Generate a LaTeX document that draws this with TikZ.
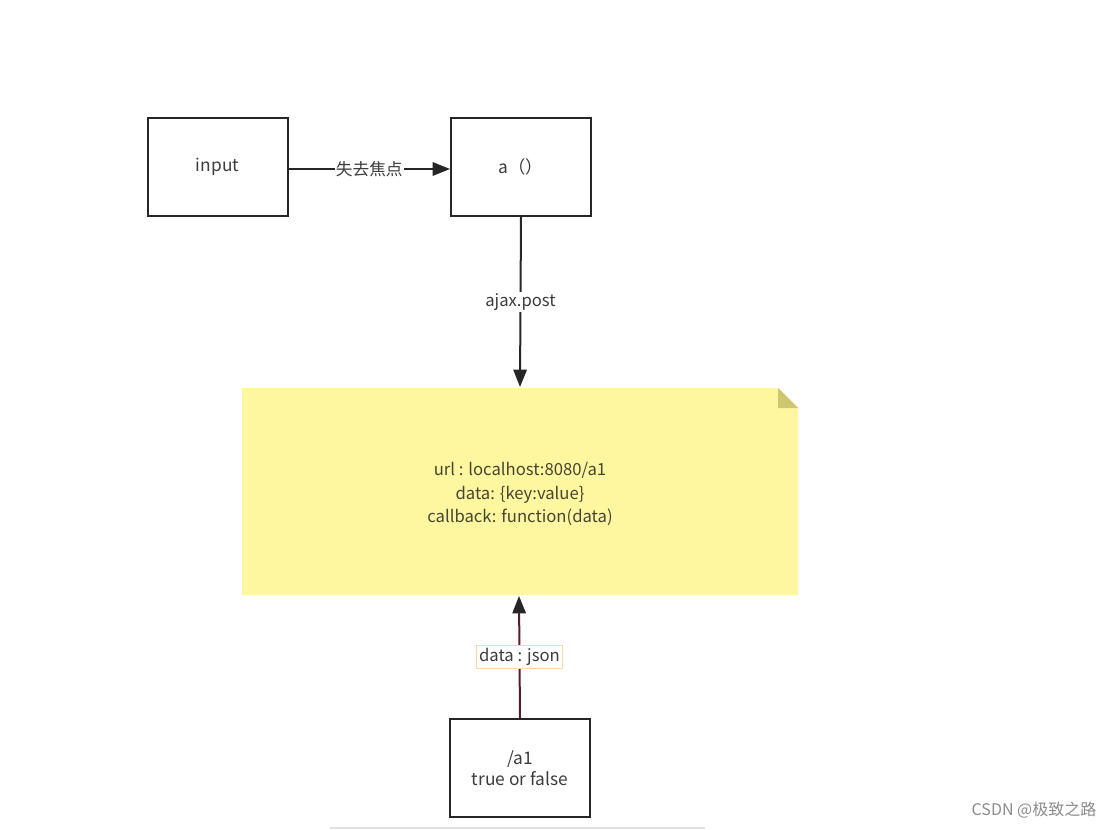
\documentclass[tikz,border=0pt]{standalone}
\usepackage{fontspec}
\setmainfont{Noto Sans CJK SC}
\usetikzlibrary{arrows.meta}
\definecolor{notey}{RGB}{255,246,160}
\definecolor{foldc}{RGB}{206,198,112}
\definecolor{txt}{RGB}{60,60,60}
\definecolor{notetxt}{RGB}{70,70,50}
\definecolor{redline}{RGB}{80,30,40}
\definecolor{lblborder}{RGB}{250,215,170}
\tikzset{
  box/.style={draw=black!85, line width=1.5pt, minimum width=105pt, minimum height=73.5pt, inner sep=0pt, text=txt, font=\fontsize{13}{15.5}\selectfont, align=center},
  conn/.style={draw=black!85, line width=1.5pt, -{Triangle[length=13pt,width=10pt]}},
  lbl/.style={fill=white, inner sep=1pt, text=txt, font=\fontsize{12.5}{14}\selectfont},
}
\begin{document}
\begin{tikzpicture}[x=0.75pt,y=-0.75pt]
\useasboundingbox (0,0) rectangle (1117,829);
\fill[white] (0,0) rectangle (1117,829);
% boxes
\node[box] (input) at (217.5,167) {\raisebox{-3.5pt}{input}};
\node[box] (a) at (521,167) {\raisebox{-3.5pt}{a（）}};
\node[box] (a1) at (520,768) {/a1\\true or false};
% note
\fill[notey] (242,388) -- (778,388) -- (798,408) -- (798,595) -- (242,595) -- cycle;
\fill[foldc] (778,388) -- (798,408) -- (778,408) -- cycle;
\coordinate (notetop) at (520,387);
\coordinate (notebot) at (519,596);
\node[text=notetxt, align=center, font=\fontsize{12.5}{17.5}\selectfont] (notetext) at (520,494) {url : localhost:8080/a1\\data: \{key:value\}\\callback: function(data)};
% connectors
\draw[conn] ([yshift=-1.5pt]input.east) -- node[lbl] (l1) {失去焦点} ([yshift=-1.5pt]a.west);
\draw[conn] (a.south) -- node[lbl, pos=0.5] (l2) {ajax.post} (notetop);
\draw[conn, draw=redline, -{Triangle[length=13pt,width=10pt,color=black!85]}] (a1.north) -- node[lbl, draw=lblborder, line width=0.6pt, inner sep=2pt, pos=0.50] (l3) {data : json} (notebot);
% watermark
\node[text=black!45, font=\fontsize{12}{14}\selectfont, anchor=east] (wm) at (1101,810) {CSDN @极致之路};
\draw[black!12, line width=1pt] (330,828) -- (705,828);
\end{tikzpicture}
\end{document}
